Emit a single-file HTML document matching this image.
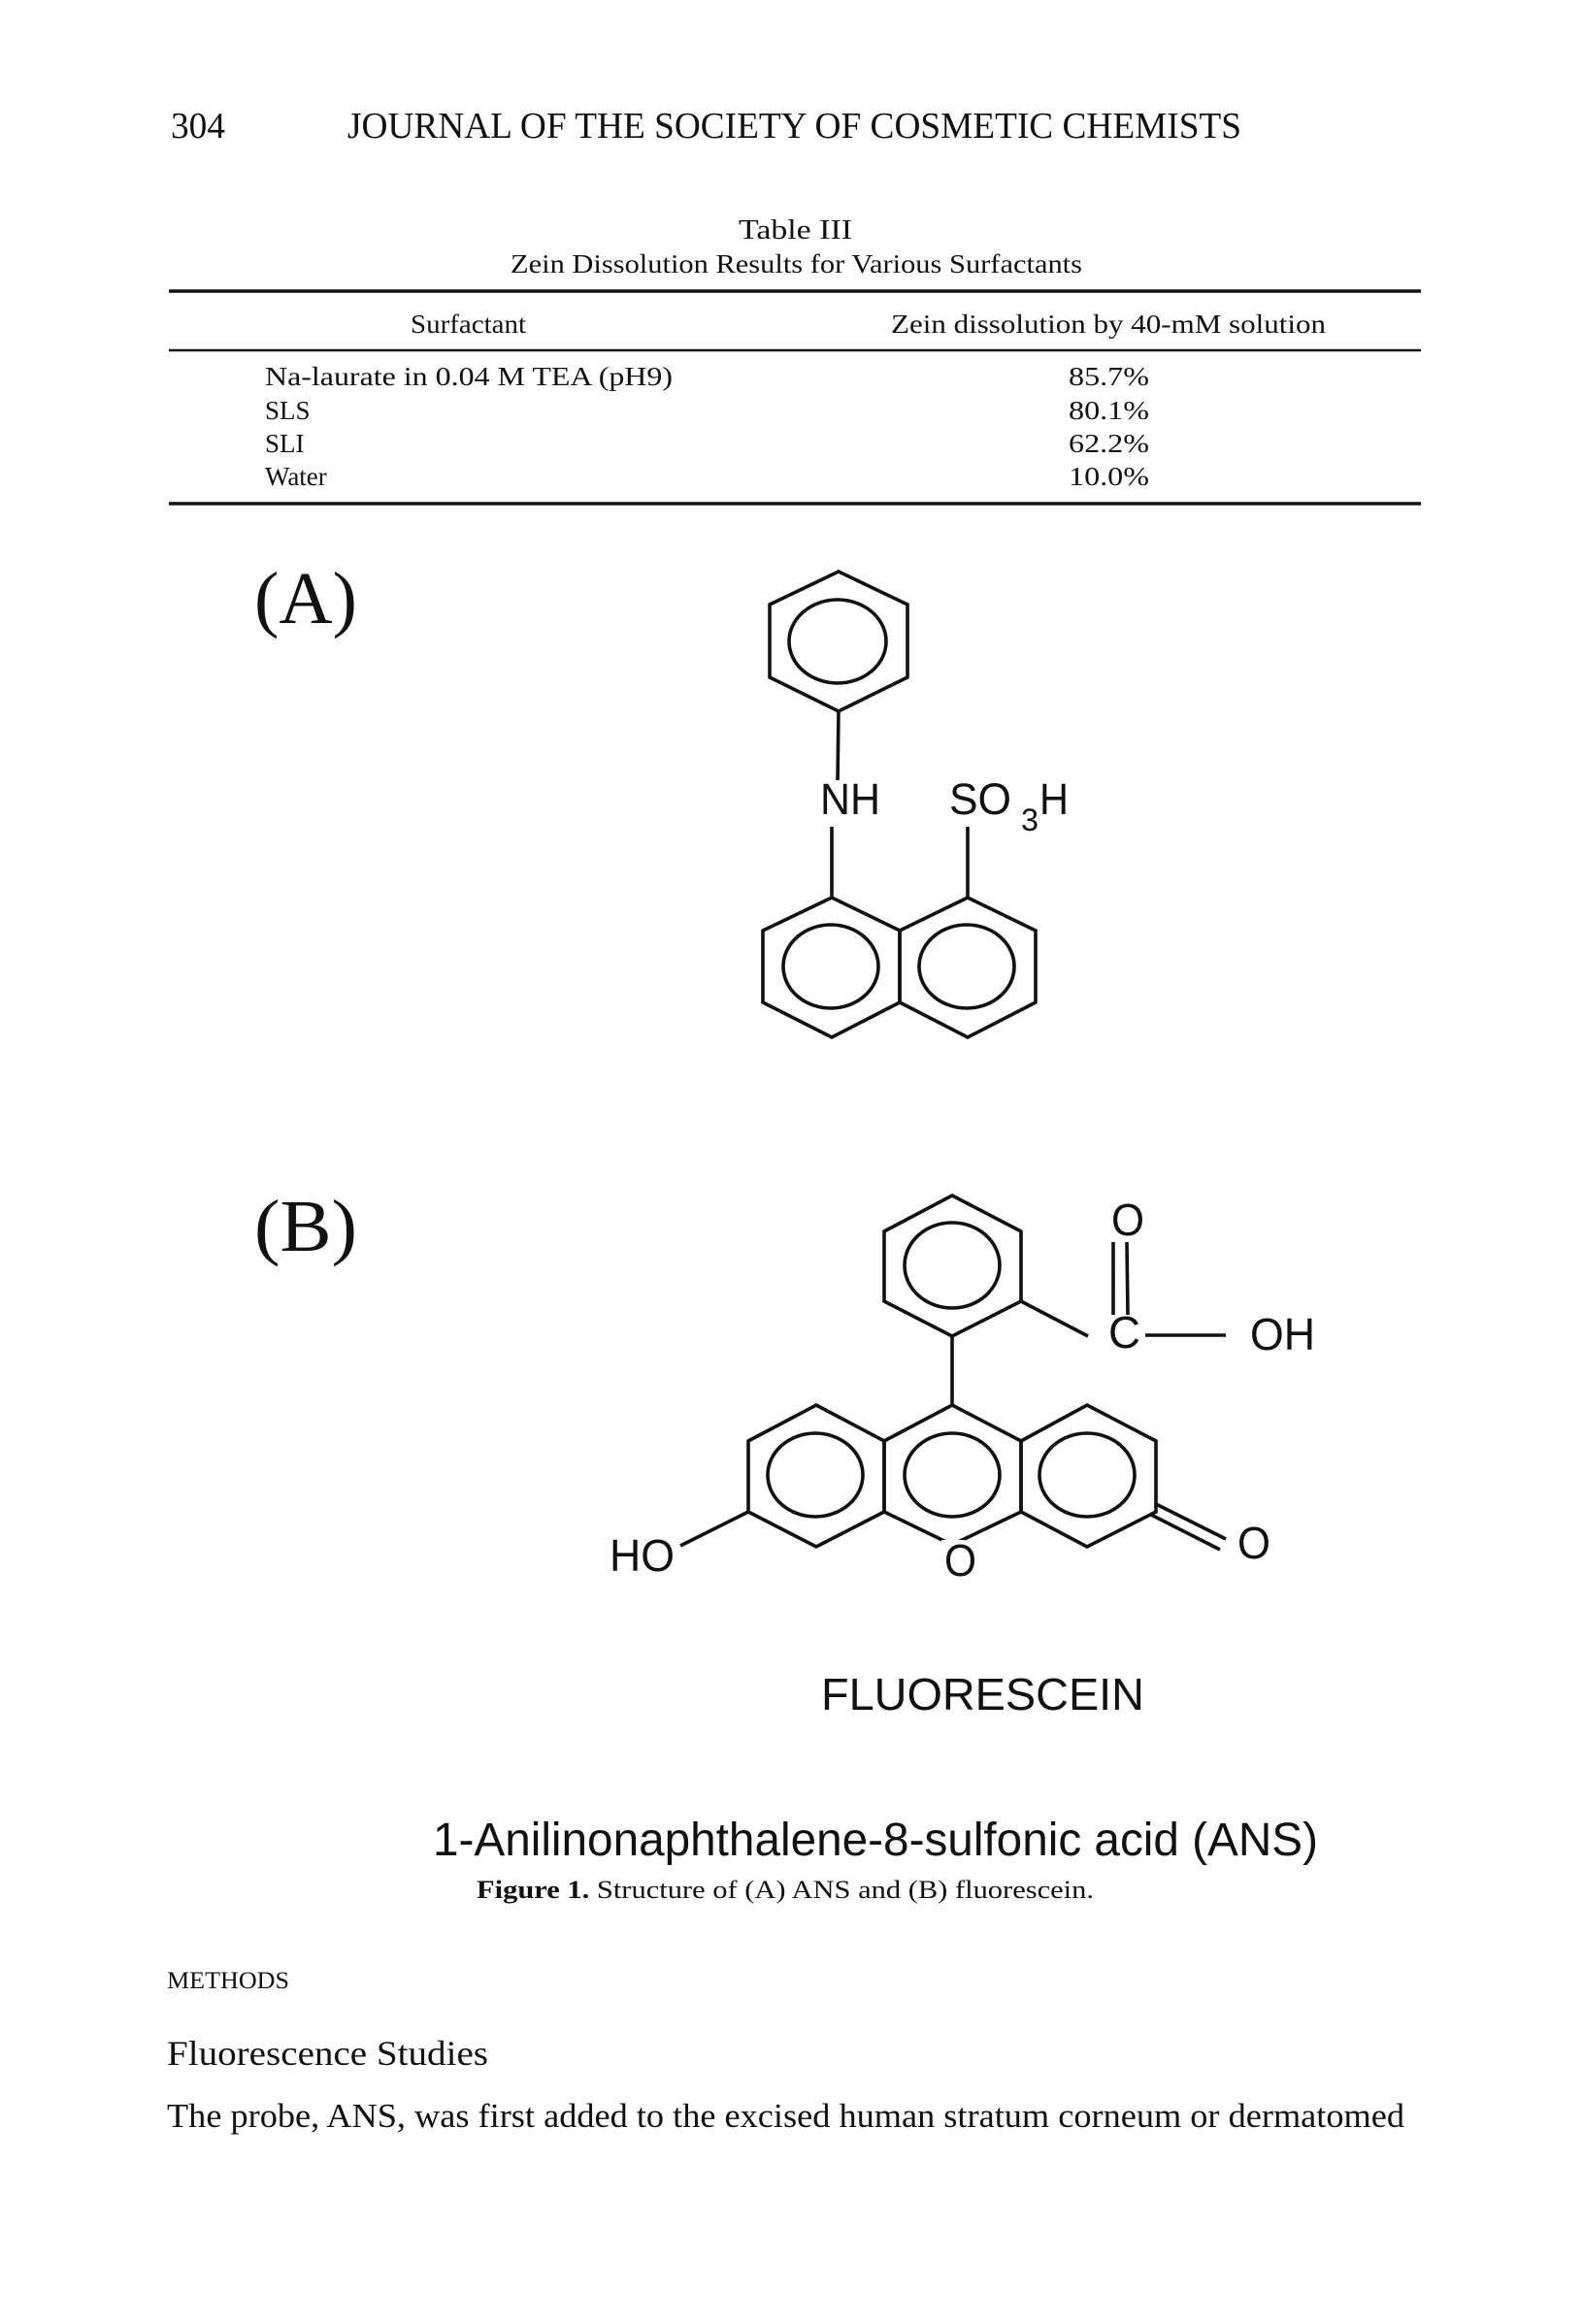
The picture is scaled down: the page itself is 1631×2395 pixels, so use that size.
<!DOCTYPE html>
<html><head><meta charset="utf-8"><style>
html,body{margin:0;padding:0;background:#fff;}
svg{display:block;}
.s{font-family:"Liberation Serif",serif;fill:#111;}
.a{font-family:"Liberation Sans",sans-serif;fill:#111;}
</style></head><body>
<svg width="1631" height="2395" viewBox="0 0 1631 2395" xmlns="http://www.w3.org/2000/svg">
<rect width="1631" height="2395" fill="#fff"/>
<!-- header -->
<text class="s" x="176" y="142" font-size="38" textLength="56" lengthAdjust="spacingAndGlyphs">304</text>
<text class="s" x="358" y="142" font-size="38" textLength="921" lengthAdjust="spacingAndGlyphs">JOURNAL OF THE SOCIETY OF COSMETIC CHEMISTS</text>
<!-- table -->
<text class="s" x="761" y="246" font-size="28" textLength="117" lengthAdjust="spacingAndGlyphs">Table III</text>
<text class="s" x="526" y="281" font-size="27" textLength="589" lengthAdjust="spacingAndGlyphs">Zein Dissolution Results for Various Surfactants</text>
<line x1="174" y1="300" x2="1464" y2="300" stroke="#111" stroke-width="3.5"/>
<text class="s" x="423" y="343" font-size="27" textLength="119" lengthAdjust="spacingAndGlyphs">Surfactant</text>
<text class="s" x="918" y="343" font-size="27" textLength="448" lengthAdjust="spacingAndGlyphs">Zein dissolution by 40-mM solution</text>
<line x1="174" y1="361" x2="1464" y2="361" stroke="#111" stroke-width="2.5"/>
<text class="s" x="273" y="397" font-size="27" textLength="420" lengthAdjust="spacingAndGlyphs">Na-laurate in 0.04 M TEA (pH9)</text>
<text class="s" x="273" y="432" font-size="27">SLS</text>
<text class="s" x="273" y="466" font-size="27">SLI</text>
<text class="s" x="273" y="500" font-size="27">Water</text>
<text class="s" x="1101" y="397" font-size="27" textLength="83" lengthAdjust="spacingAndGlyphs">85.7%</text>
<text class="s" x="1101" y="432" font-size="27" textLength="83" lengthAdjust="spacingAndGlyphs">80.1%</text>
<text class="s" x="1101" y="466" font-size="27" textLength="83" lengthAdjust="spacingAndGlyphs">62.2%</text>
<text class="s" x="1101" y="500" font-size="27" textLength="83" lengthAdjust="spacingAndGlyphs">10.0%</text>
<line x1="174" y1="519" x2="1464" y2="519" stroke="#111" stroke-width="3.5"/>

<!-- (A) -->
<text class="s" x="262" y="642" font-size="76" textLength="106" lengthAdjust="spacingAndGlyphs">(A)</text>
<g fill="none" stroke="#111" stroke-width="3.6">
<polygon points="864,589 935,623 935,698 864,733 793,698 793,623"/>
<ellipse cx="863" cy="661" rx="50" ry="43"/>
<line x1="864" y1="733" x2="863" y2="804"/>
<line x1="857" y1="852" x2="857" y2="925"/>
<line x1="997" y1="852" x2="997" y2="925"/>
<polygon points="857,925 927,959 927,1033 857,1069 786,1033 786,959"/>
<polygon points="997,925 1067,959 1067,1033 997,1069 927,1033 927,959"/>
<ellipse cx="856" cy="996" rx="49" ry="43"/>
<ellipse cx="996" cy="996" rx="49" ry="43"/>
</g>
<text class="a" x="845" y="839" font-size="45" textLength="62" lengthAdjust="spacingAndGlyphs">NH</text>
<text class="a" x="978" y="839" font-size="45" textLength="64" lengthAdjust="spacingAndGlyphs">SO</text>
<text class="a" x="1052" y="856" font-size="32" textLength="18" lengthAdjust="spacingAndGlyphs">3</text>
<text class="a" x="1071" y="839" font-size="45" textLength="30" lengthAdjust="spacingAndGlyphs">H</text>

<!-- (B) -->
<text class="s" x="262" y="1289" font-size="76" textLength="106" lengthAdjust="spacingAndGlyphs">(B)</text>
<g fill="none" stroke="#111" stroke-width="3.6">
<polygon points="981,1232 1052,1269 1052,1341 981,1377 911,1341 911,1269"/>
<ellipse cx="981" cy="1304" rx="49" ry="44"/>
<line x1="1052" y1="1341" x2="1121" y2="1377"/>
<line x1="1147" y1="1280" x2="1147" y2="1355"/>
<line x1="1161" y1="1280" x2="1162" y2="1355"/>
<line x1="1180" y1="1376" x2="1263" y2="1376"/>
<line x1="981" y1="1377" x2="981" y2="1448"/>
<polygon points="981,1448 1052,1485 1052,1558 981,1592 911,1558 911,1485"/>
<polygon points="841,1448 911,1485 911,1558 841,1594 771,1558 771,1485"/>
<polygon points="1120,1448 1191,1485 1191,1558 1120,1594 1052,1558 1052,1485"/>
<ellipse cx="840" cy="1520" rx="49" ry="43"/>
<ellipse cx="981" cy="1520" rx="49" ry="43"/>
<ellipse cx="1120" cy="1520" rx="49" ry="43"/>
<line x1="771" y1="1558" x2="701" y2="1593"/>
<line x1="1191" y1="1550" x2="1263" y2="1586"/>
<line x1="1186" y1="1561" x2="1257" y2="1597"/>
</g>
<rect x="970" y="1587" width="24" height="8" fill="#fff"/>
<text class="a" x="1145" y="1273" font-size="46" textLength="34" lengthAdjust="spacingAndGlyphs">O</text>
<text class="a" x="1142" y="1389" font-size="46" textLength="33" lengthAdjust="spacingAndGlyphs">C</text>
<text class="a" x="1288" y="1391" font-size="46" textLength="67" lengthAdjust="spacingAndGlyphs">OH</text>
<text class="a" x="628" y="1619" font-size="46" textLength="67" lengthAdjust="spacingAndGlyphs">HO</text>
<text class="a" x="973" y="1624" font-size="46" textLength="33" lengthAdjust="spacingAndGlyphs">O</text>
<text class="a" x="1275" y="1606" font-size="46" textLength="34" lengthAdjust="spacingAndGlyphs">O</text>

<text class="a" x="846" y="1762" font-size="46" textLength="333" lengthAdjust="spacingAndGlyphs">FLUORESCEIN</text>
<text class="a" x="446" y="1912" font-size="48" textLength="912" lengthAdjust="spacingAndGlyphs">1-Anilinonaphthalene-8-sulfonic acid (ANS)</text>
<text class="s" x="491" y="1956" font-size="26" textLength="636" lengthAdjust="spacingAndGlyphs"><tspan font-weight="bold">Figure 1.</tspan>  Structure of (A) ANS and (B) fluorescein.</text>

<text class="s" x="172" y="2049" font-size="25" textLength="126" lengthAdjust="spacingAndGlyphs">METHODS</text>
<text class="s" x="172" y="2128" font-size="36" textLength="331" lengthAdjust="spacingAndGlyphs">Fluorescence Studies</text>
<text class="s" x="172" y="2192" font-size="35" textLength="1275" lengthAdjust="spacingAndGlyphs">The probe, ANS, was first added to the excised human stratum corneum or dermatomed</text>
</svg>
</body></html>
